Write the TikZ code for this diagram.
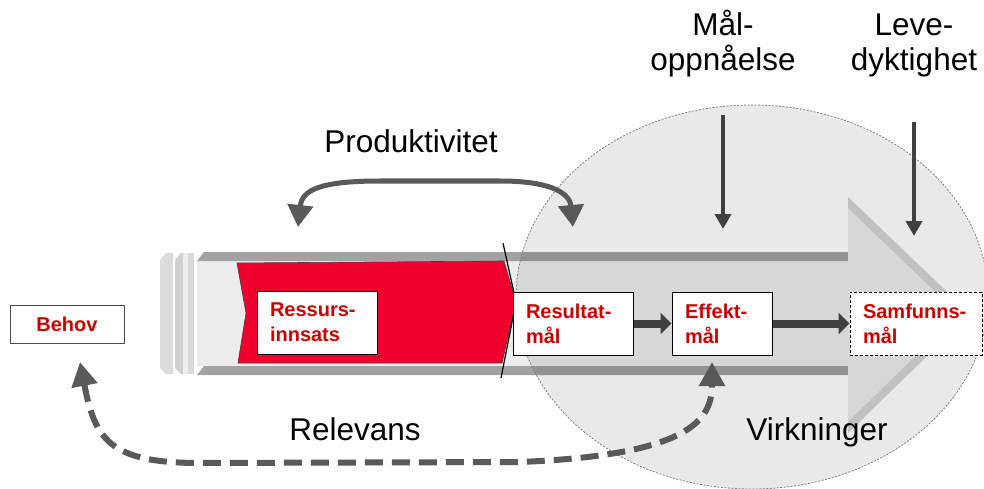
\documentclass[tikz,border=0pt]{standalone}
\usepackage{fontspec}
\setmainfont{Liberation Sans}
\usetikzlibrary{arrows.meta}
\definecolor{redfill}{RGB}{240,0,45}
\definecolor{redtext}{RGB}{200,0,0}
\definecolor{darkarrow}{RGB}{64,64,64}
\definecolor{midarrow}{RGB}{89,89,89}
\definecolor{bodyfill}{RGB}{236,236,236}
\definecolor{stripegray}{RGB}{162,162,162}
\definecolor{headedge}{RGB}{212,212,212}
\definecolor{headfill}{RGB}{236,236,236}
\tikzset{
  box/.style={draw=black, line width=1pt, fill=white, text=redtext,
    font=\fontsize{20}{25}\selectfont\bfseries, align=left,
    inner xsep=13pt, inner ysep=0pt, minimum height=63pt},
  biglabel/.style={font=\fontsize{31.5}{35}\selectfont, align=center, inner sep=0pt},
  fatarrow/.style={draw=darkarrow, line width=8pt, -{Triangle[length=11pt,width=21pt]}},
  thinarrow/.style={draw=darkarrow, line width=4pt, -{Triangle[length=15pt,width=16pt]}},
  prodarrow/.style={draw=midarrow, line width=5pt, {Triangle[length=22pt,width=25pt]}-{Triangle[length=22pt,width=25pt]}},
  relarrow/.style={draw=midarrow, line width=6pt, dash pattern=on 18pt off 9pt,
    {Triangle[length=24pt,width=25pt]}-{Triangle[length=24pt,width=25pt]}}
}
\begin{document}
\begin{tikzpicture}[x=1pt,y=-1pt]
\useasboundingbox (0,0) rectangle (984,489);
% big grey block arrow
\fill[bodyfill] (197,261) rectangle (848,366);
\fill[stripegray] (197,261) -- (204,252) -- (848,252) -- (848,261) -- cycle;
\fill[stripegray] (197,375) -- (204,366) -- (848,366) -- (848,375) -- cycle;
\fill[headfill] (848,197) -- (970,314) -- (848,433) -- cycle;
\begin{scope}
  \clip (848,197) -- (970,314) -- (848,433) -- cycle;
  \draw[headedge, line width=16pt] (848,197) -- (970,314) -- (848,433);
\end{scope}
% left slabs
\fill[black!14] (160,260) -- (166,253) -- (173,253) -- (173,374) -- (166,374) -- (160,368) -- cycle;
\fill[black!18] (175,260) -- (181,253) -- (183,253) -- (183,374) -- (181,374) -- (175,368) -- cycle;
\fill[black!7] (183,253) rectangle (188,374);
\fill[black!15] (188,253) rectangle (194,374);
% red shape
\fill[redfill, draw=black!75, line width=0.6pt] (237,263) -- (504,261) -- (516,302) -- (502,363) -- (238,363) -- (246,313) -- cycle;
\draw[black, line width=1.2pt] (503,243) -- (516,302) -- (501,378);
% circle
\fill[black, fill opacity=0.085] (752,297) ellipse [x radius=236pt, y radius=192pt];
\draw[black!50, line width=0.8pt, dash pattern=on 2pt off 1.5pt] (752,297) ellipse [x radius=236pt, y radius=192pt];
% boxes
\node[draw=black!70, line width=1pt, fill=white, text=redtext, font=\fontsize{20}{25}\selectfont\bfseries,
  minimum width=114pt, minimum height=38pt, inner sep=0pt] (beh) at (67,324) {Behov};
\node[box, text width=94pt] (ress) at (317,322.5) {Ressurs-\\innsats};
\node[box, text width=94pt] (resm) at (573,323.5) {Resultat-\\mål};
\node[box, text width=74pt] (eff) at (722,323.5) {Effekt-\\mål};
\node[box, text width=106pt, dashed, dash pattern=on 3pt off 2pt] (sam) at (916,323.5) {Samfunns-\\mål};
\draw[fatarrow] (resm.east) -- (eff.west);
\draw[fatarrow] (eff.east) -- (sam.west);
% labels
\node[biglabel] (mo) at (723,44) {Mål-\\oppnåelse};
\node[biglabel] (ld) at (914,45) {Leve-\\dyktighet};
\node[biglabel, anchor=base] (prod) at (411,153) {Produktivitet};
\node[biglabel, anchor=base] (rel) at (355,440) {Relevans};
\node[biglabel, anchor=base] (virk) at (817,440) {Virkninger};
% vertical arrows
\coordinate (ma) at (723,115);
\coordinate (mb) at (723,229);
\coordinate (la) at (914,122);
\coordinate (lb) at (914,236);
\draw[thinarrow] (ma) -- (mb);
\draw[thinarrow] (la) -- (lb);
% productivity arrow
\coordinate (pl) at (298,227);
\coordinate (pr) at (573,227);
\draw[prodarrow] (pl) .. controls (302,190) and (320,181) .. (380,181) -- (500,181) .. controls (555,181) and (570,195) .. (pr);
% relevans arrow
\coordinate (bt) at (80,362);
\coordinate (et) at (712,362);
\draw[relarrow] (bt) .. controls (95,440) and (110,463) .. (200,463) -- (520,462) .. controls (690,455) and (712,420) .. (et);
\end{tikzpicture}
\end{document}
